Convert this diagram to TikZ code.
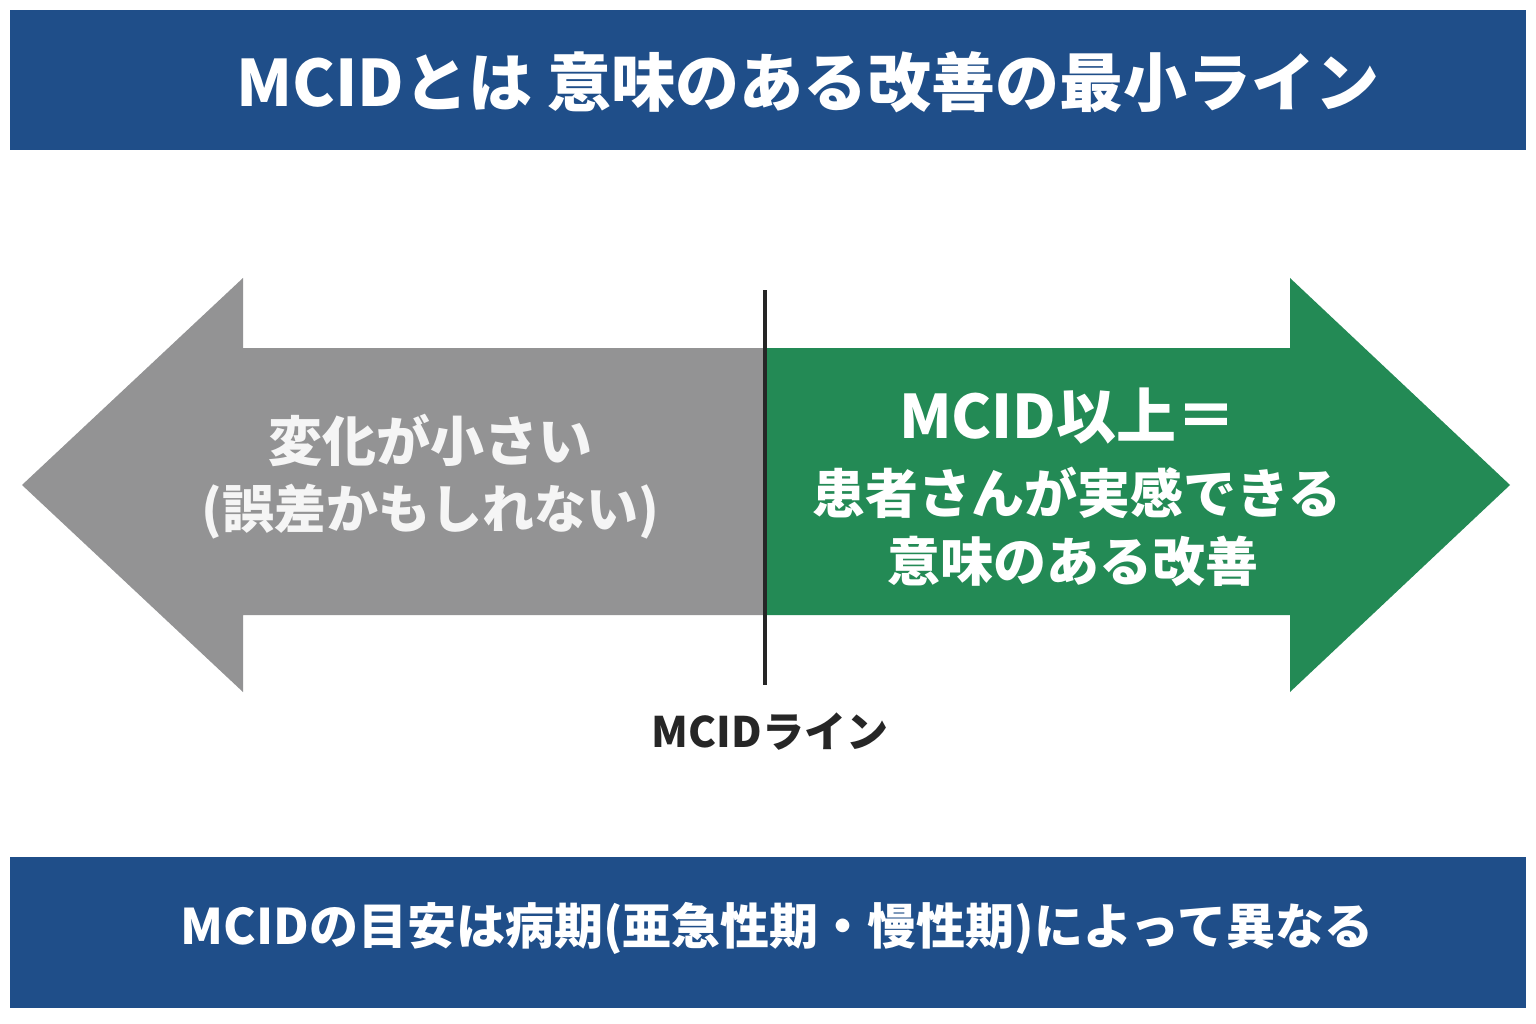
\documentclass[tikz,border=0pt]{standalone}
\usepackage{fontspec}
\setmainfont{Noto Sans CJK JP}
\begin{document}
\begin{tikzpicture}[x=1pt,y=-1pt,
  banner/.style={fill=bannerblue},
  wtxt/.style={text=white,font=\bfseries,inner sep=0pt,anchor=center}]
\definecolor{bannerblue}{HTML}{1F4E89}
\definecolor{agray}{HTML}{939394}
\definecolor{agreen}{HTML}{238A55}
\useasboundingbox[fill=white] (0,0) rectangle (1536,1024);
\fill[banner] (10,10) rectangle (1526,150);
\fill[banner] (10,857) rectangle (1526,1008);
\fill[agray] (765,348) -- (243,348) -- (243,278) -- (22,485) -- (243,692) -- (243,615) -- (765,615) -- cycle;
\fill[agreen] (765,348) -- (1290,348) -- (1290,278) -- (1510,485) -- (1290,692) -- (1290,615) -- (765,615) -- cycle;
\coordinate (ltop) at (765,290);
\coordinate (lbot) at (765,685);
\draw[line width=4pt,color=black!85] (ltop) -- (lbot);
\node[wtxt,font=\bfseries\fontsize{64}{70}\selectfont] (title) at (808,82) {MCIDとは 意味のある改善の最小ライン};
\node[wtxt,font=\bfseries\fontsize{49}{55}\selectfont] (foot) at (777,928) {MCIDの目安は病期(亜急性期・慢性期)によって異なる};
\node[wtxt,font=\bfseries\fontsize{54}{60}\selectfont,text=white!96!black] (g1) at (430,440) {変化が小さい};
\node[wtxt,font=\bfseries\fontsize{52}{58}\selectfont,text=white!96!black] (g2) at (430,512) {(誤差かもしれない)};
\node[wtxt,font=\bfseries\fontsize{60}{66}\selectfont] (r1) at (1068,416) {MCID以上＝};
\node[wtxt,font=\bfseries\fontsize{53}{58}\selectfont] (r2) at (1077,493) {患者さんが実感できる};
\node[wtxt,font=\bfseries\fontsize{53}{58}\selectfont] (r3) at (1073,561) {意味のある改善};
\node[inner sep=0pt,font=\bfseries\fontsize{42}{48}\selectfont,text=black!85] (ml) at (770,732) {MCIDライン};
\end{tikzpicture}
\end{document}
